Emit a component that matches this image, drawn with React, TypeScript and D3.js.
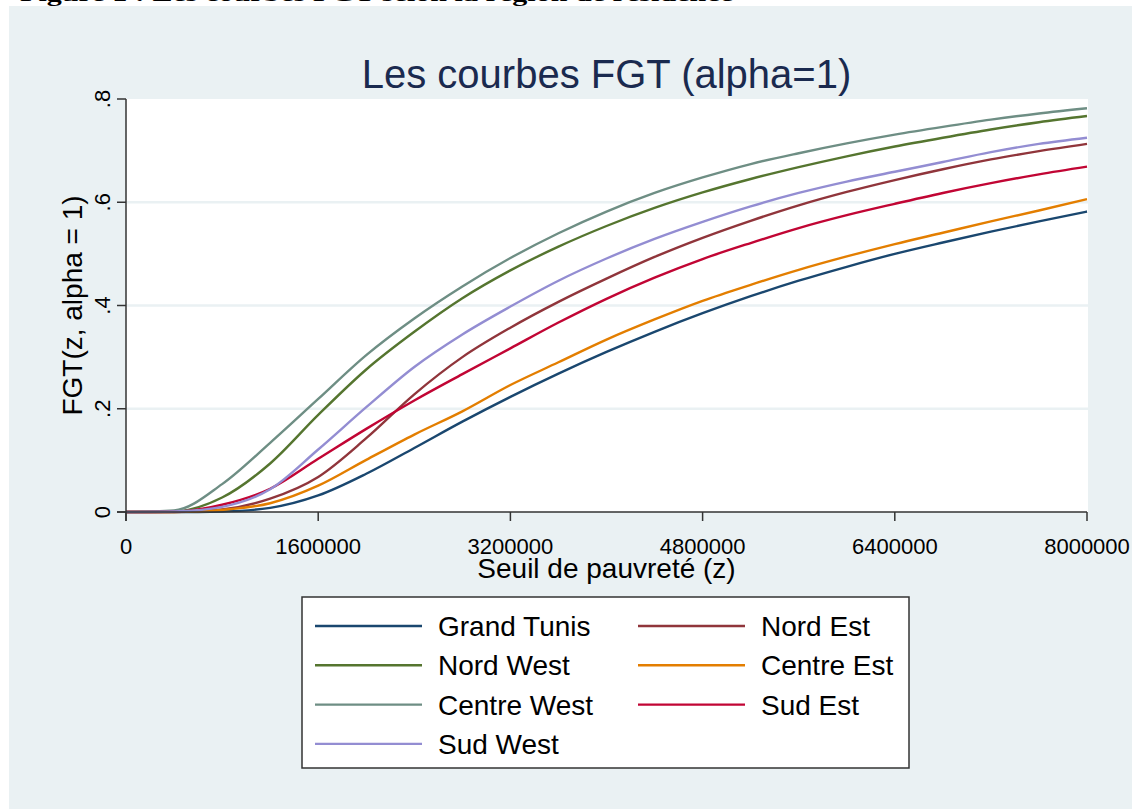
import * as d3 from "d3";

// seuil de pauvreté (z), pas de 400000
const seuils = [0, 400000, 800000, 1200000, 1600000, 2000000, 2400000, 2800000, 3200000, 3600000, 4000000,
  4400000, 4800000, 5200000, 5600000, 6000000, 6400000, 6800000, 7200000, 7600000, 8000000];

const grandTunis = [0, 0, 0.001, 0.008, 0.032, 0.074, 0.124, 0.175, 0.223, 0.268, 0.31,
  0.349, 0.385, 0.418, 0.448, 0.475, 0.5, 0.522, 0.543, 0.563, 0.582];
const nordEst = [0, 0, 0.005, 0.026, 0.068, 0.143, 0.228, 0.3, 0.357, 0.407, 0.452,
  0.494, 0.531, 0.564, 0.594, 0.62, 0.643, 0.664, 0.683, 0.699, 0.713];
const nordWest = [0, 0.001, 0.028, 0.094, 0.188, 0.276, 0.349, 0.414, 0.468, 0.514, 0.554,
  0.589, 0.619, 0.645, 0.668, 0.689, 0.708, 0.725, 0.741, 0.755, 0.767];
const centreEst = [0, 0, 0.004, 0.017, 0.051, 0.101, 0.15, 0.195, 0.246, 0.29, 0.334,
  0.373, 0.409, 0.44, 0.469, 0.495, 0.519, 0.541, 0.563, 0.584, 0.606];
const centreWest = [0, 0.003, 0.054, 0.134, 0.219, 0.304, 0.375, 0.437, 0.492, 0.54, 0.582,
  0.618, 0.648, 0.674, 0.695, 0.714, 0.731, 0.746, 0.76, 0.772, 0.782];
const sudEst = [0, 0.0005, 0.014, 0.045, 0.103, 0.161, 0.216, 0.267, 0.317, 0.367, 0.413,
  0.454, 0.49, 0.521, 0.55, 0.575, 0.597, 0.618, 0.637, 0.654, 0.669];
const sudWest = [0, 0.001, 0.01, 0.044, 0.121, 0.203, 0.281, 0.344, 0.398, 0.448, 0.491,
  0.529, 0.562, 0.592, 0.618, 0.64, 0.659, 0.678, 0.697, 0.713, 0.725];

const regions = ["Grand Tunis", "Nord Est", "Nord West", "Centre Est", "Centre West", "Sud Est", "Sud West"];
const valeurs = [grandTunis, nordEst, nordWest, centreEst, centreWest, sudEst, sudWest];
const couleurs = ["#1a476f", "#90353b", "#55752f", "#e37e00", "#6e8e84", "#c10534", "#938dd2"];

const xTicks = [0, 1600000, 3200000, 4800000, 6400000, 8000000];
const yTicks = [0, 0.2, 0.4, 0.6, 0.8];
const yTickLabels = ["0", ".2", ".4", ".6", ".8"];

export default function App() {
  const left = 126, right = 1087, top = 99, bottom = 512;
  const x = d3.scaleLinear().domain([0, 8000000]).range([left, right]);
  const y = d3.scaleLinear().domain([0, 0.8]).range([bottom, top]);

  const line = d3.line<number>()
    .x((d, i) => x(seuils[i]))
    .y(d => y(d))
    .curve(d3.curveMonotoneX);

  // legende: 2 colonnes, rangée par rangée
  const legendItems = regions.map((r, i) => ({
    name: r, color: couleurs[i], col: i % 2, row: Math.floor(i / 2)
  }));

  const font = "'Liberation Sans', Arial, sans-serif";

  return (
    <div style={{ position: "absolute", left: 0, top: 0 }}>
      <svg width={1132} height={809} style={{ display: "block", fontFamily: font }}>
        <rect x={0} y={0} width={1132} height={809} fill="#ffffff" />
        <rect x={9} y={6} width={1123} height={803} fill="#eaf1f3" />
        {/* legende de la figure, coupée en haut de l'image */}
        <text x={20} y={1} fontFamily="'Liberation Serif', 'Times New Roman', serif" fontWeight="bold"
          fontSize={22} textLength={713} lengthAdjust="spacingAndGlyphs">
          Figure 1 : Les courbes FGT selon la région de résidence
        </text>

        <text x={(left + right) / 2} y={88} textAnchor="middle" fontSize={40} fill="#1a2a4f">
          Les courbes FGT (alpha=1)
        </text>

        <rect x={left} y={top} width={right - left + 1} height={bottom - top} fill="#ffffff" />
        {yTicks.filter(t => t > 0 && t < 0.8).map(t => (
          <line key={t} x1={left} x2={right + 1} y1={y(t)} y2={y(t)} stroke="#eaf1f3" strokeWidth={2.5} />
        ))}

        {valeurs.map((v, i) => (
          <path key={regions[i]} d={line(v) ?? ""} fill="none" stroke={couleurs[i]} strokeWidth={2.4} />
        ))}

        {/* axe y */}
        <line x1={left} x2={left} y1={top} y2={bottom + 9} stroke="#333" strokeWidth={1.5} />
        {yTicks.map((t, i) => (
          <g key={t}>
            <line x1={left - 9} x2={left} y1={y(t)} y2={y(t)} stroke="#333" strokeWidth={1.5} />
            <text transform={`translate(${left - 16},${y(t)}) rotate(-90)`} textAnchor="middle" fontSize={22}>
              {yTickLabels[i]}
            </text>
          </g>
        ))}
        <text transform={`translate(82,${(top + bottom) / 2}) rotate(-90)`} textAnchor="middle" fontSize={28}>
          FGT(z, alpha = 1)
        </text>

        {/* axe x */}
        <line x1={left - 9} x2={right} y1={bottom} y2={bottom} stroke="#333" strokeWidth={1.5} />
        {xTicks.map(t => (
          <g key={t}>
            <line x1={x(t)} x2={x(t)} y1={bottom} y2={bottom + 9} stroke="#333" strokeWidth={1.5} />
            <text x={x(t)} y={554} textAnchor="middle" fontSize={22}>{t}</text>
          </g>
        ))}
        <text x={(left + right) / 2} y={578} textAnchor="middle" fontSize={28}>
          Seuil de pauvreté (z)
        </text>

        {/* legende */}
        <rect x={302} y={597} width={607} height={171} fill="#ffffff" stroke="#333" strokeWidth={1.5} />
        {legendItems.map(it => {
          const lx = it.col === 0 ? 315 : 638;
          const cy = 626 + it.row * 39.3;
          return (
            <g key={it.name}>
              <line x1={lx} x2={lx + 107} y1={cy} y2={cy} stroke={it.color} strokeWidth={2.4} />
              <text x={lx + 123} y={cy + 10} fontSize={28}>{it.name}</text>
            </g>
          );
        })}
      </svg>
    </div>
  );
}
